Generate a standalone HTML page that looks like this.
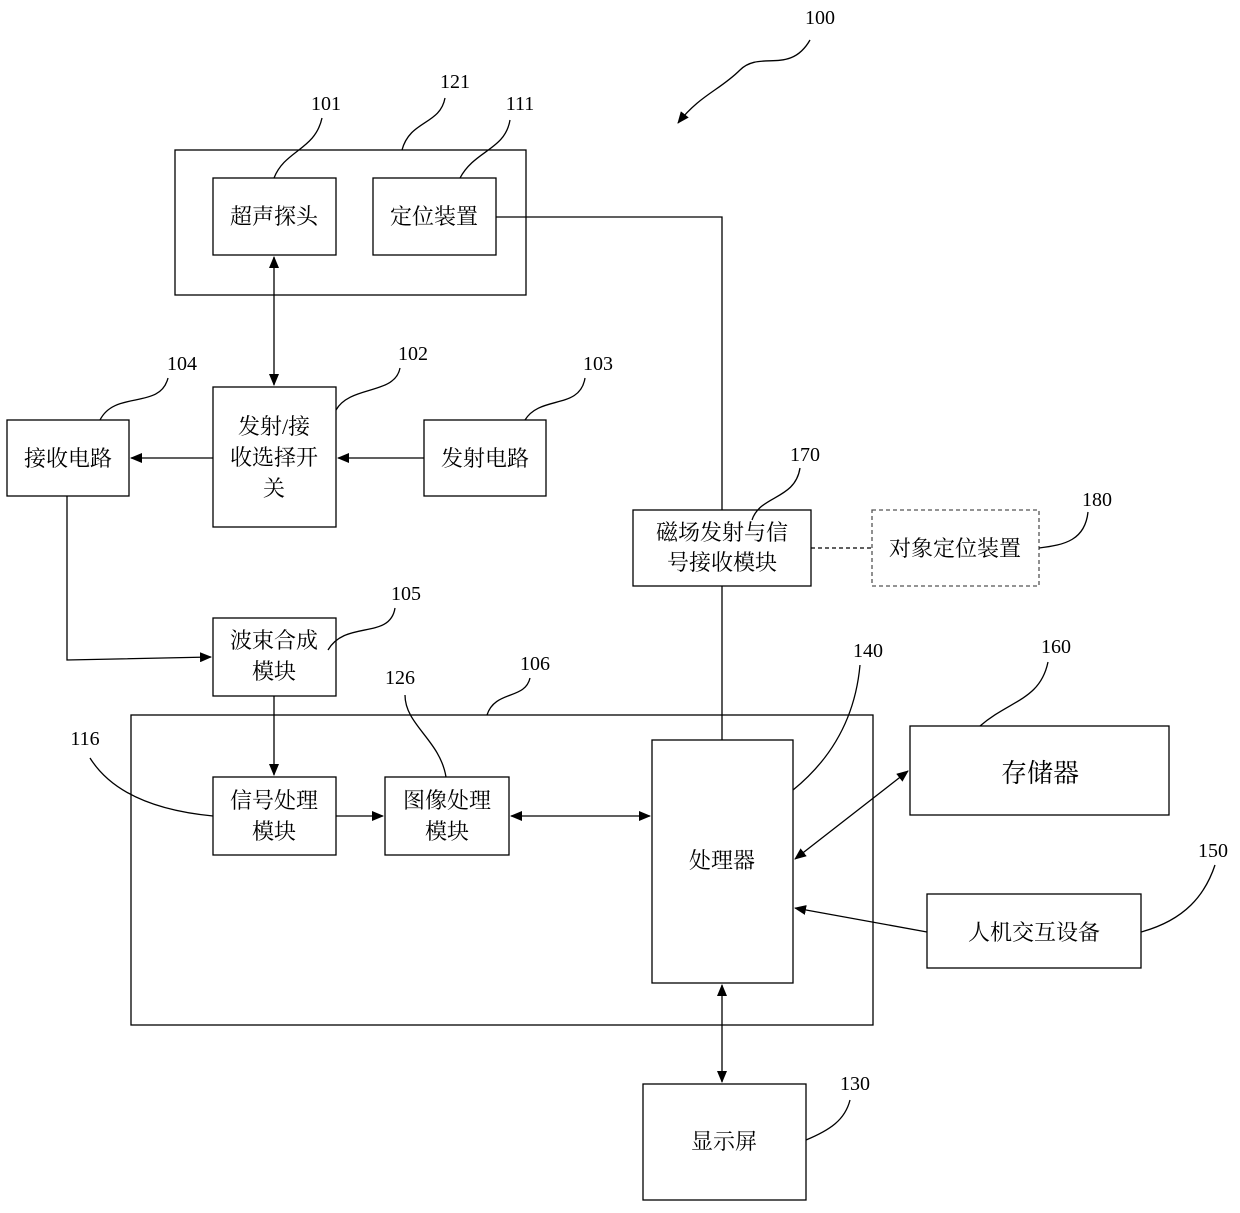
<!DOCTYPE html>
<html><head><meta charset="utf-8"><style>
html,body{margin:0;padding:0;background:#fff;}
svg text{font-family:"Liberation Serif","Noto Serif CJK SC","Noto Sans CJK SC",serif;fill:#000;}
.c{font-size:22px;text-anchor:middle;}
.n{font-size:20px;text-anchor:middle;}
</style></head><body>
<svg width="1240" height="1208" viewBox="0 0 1240 1208" xmlns="http://www.w3.org/2000/svg">
<defs>
<marker id="a" markerWidth="12" markerHeight="10" refX="11" refY="5" orient="auto-start-reverse" markerUnits="userSpaceOnUse">
<path d="M0,0 L12,5 L0,10 Z" fill="#000"/></marker>
</defs>
<g fill="none" stroke="#000" stroke-width="1.3">
<rect x="175" y="150" width="351" height="145"/>
<rect x="213" y="178" width="123" height="77"/>
<rect x="373" y="178" width="123" height="77"/>
<rect x="633" y="510" width="178" height="76"/>
<rect x="872" y="510" width="167" height="76" stroke-dasharray="4,3" stroke="#555"/>
<rect x="213" y="387" width="123" height="140"/>
<rect x="7" y="420" width="122" height="76"/>
<rect x="424" y="420" width="122" height="76"/>
<rect x="213" y="618" width="123" height="78"/>
<rect x="131" y="715" width="742" height="310"/>
<rect x="213" y="777" width="123" height="78"/>
<rect x="385" y="777" width="124" height="78"/>
<rect x="652" y="740" width="141" height="243"/>
<rect x="910" y="726" width="259" height="89"/>
<rect x="927" y="894" width="214" height="74"/>
<rect x="643" y="1084" width="163" height="116"/>
<!-- connectors -->
<polyline points="496,217 722,217 722,510"/>
<line x1="722" y1="586" x2="722" y2="740"/>
<line x1="811" y1="548" x2="872" y2="548" stroke-dasharray="4,3"/>
<line x1="274" y1="257" x2="274" y2="385" marker-start="url(#a)" marker-end="url(#a)"/>
<line x1="213" y1="458" x2="131" y2="458" marker-end="url(#a)"/>
<line x1="424" y1="458" x2="338" y2="458" marker-end="url(#a)"/>
<polyline points="67,496 67,660 211,657" marker-end="url(#a)"/>
<line x1="274" y1="696" x2="274" y2="775" marker-end="url(#a)"/>
<line x1="336" y1="816" x2="383" y2="816" marker-end="url(#a)"/>
<line x1="511" y1="816" x2="650" y2="816" marker-start="url(#a)" marker-end="url(#a)"/>
<line x1="795" y1="859" x2="908" y2="771" marker-start="url(#a)" marker-end="url(#a)"/>
<line x1="927" y1="932" x2="795" y2="908" marker-end="url(#a)"/>
<line x1="722" y1="985" x2="722" y2="1082" marker-start="url(#a)" marker-end="url(#a)"/>
<!-- leaders -->
<path d="M810,40 C790,75 760,50 740,70 C720,90 700,95 678,123" marker-end="url(#a)"/>
<path d="M402,150 C410,120 440,125 445,98"/>
<path d="M274,178 C285,150 315,150 322,118"/>
<path d="M460,178 C475,150 505,150 510,120"/>
<path d="M100,420 C115,390 160,410 168,378"/>
<path d="M336,410 C350,385 395,395 400,368"/>
<path d="M525,420 C540,395 580,410 585,378"/>
<path d="M752,520 C760,495 795,500 800,468"/>
<path d="M1039,548 C1065,545 1085,540 1088,512"/>
<path d="M328,650 C345,620 390,640 395,608"/>
<path d="M487,715 C495,690 525,700 530,678"/>
<path d="M446,777 C440,740 405,725 405,695"/>
<path d="M213,816 C150,810 110,790 90,758"/>
<path d="M793,790 C830,760 855,720 860,665"/>
<path d="M980,726 C1010,700 1040,700 1048,662"/>
<path d="M1141,932 C1185,920 1205,895 1215,865"/>
<path d="M806,1140 C830,1130 845,1120 850,1100"/>
</g>
<g class="c">
<text x="274" y="224">超声探头</text>
<text x="434" y="224">定位装置</text>
<text x="722" y="540">磁场发射与信</text>
<text x="722" y="570">号接收模块</text>
<text x="955" y="556">对象定位装置</text>
<text x="274" y="434">发射/接</text>
<text x="274" y="465">收选择开</text>
<text x="274" y="496">关</text>
<text x="68" y="466">接收电路</text>
<text x="485" y="466">发射电路</text>
<text x="274" y="648">波束合成</text>
<text x="274" y="679">模块</text>
<text x="274" y="808">信号处理</text>
<text x="274" y="839">模块</text>
<text x="447" y="808">图像处理</text>
<text x="447" y="839">模块</text>
<text x="722" y="868">处理器</text>
<text x="1040" y="782" style="font-size:26px">存储器</text>
<text x="1034" y="940">人机交互设备</text>
<text x="724" y="1149">显示屏</text>
</g>
<g class="n">
<text x="820" y="24">100</text>
<text x="455" y="88">121</text>
<text x="326" y="110">101</text>
<text x="520" y="110">111</text>
<text x="182" y="370">104</text>
<text x="413" y="360">102</text>
<text x="598" y="370">103</text>
<text x="805" y="461">170</text>
<text x="1097" y="506">180</text>
<text x="406" y="600">105</text>
<text x="535" y="670">106</text>
<text x="400" y="684">126</text>
<text x="85" y="745">116</text>
<text x="868" y="657">140</text>
<text x="1056" y="653">160</text>
<text x="1213" y="857">150</text>
<text x="855" y="1090">130</text>
</g>
</svg>
</body></html>
